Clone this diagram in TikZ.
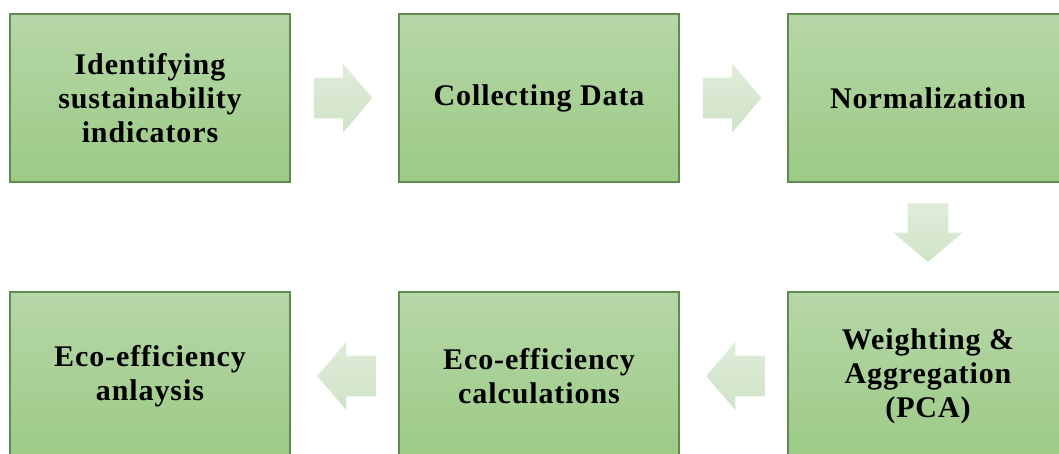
\documentclass[tikz,border=0pt]{standalone}
\usepackage{fontspec}
\setmainfont{Liberation Serif}
\usetikzlibrary{calc,positioning,shapes.arrows}

\definecolor{boxtop}{HTML}{B6D7A8}
\definecolor{boxbot}{HTML}{9CCA85}
\definecolor{boxline}{HTML}{5F8A50}
\definecolor{arrtop}{HTML}{E0ECDA}
\definecolor{arrbot}{HTML}{CFE3C6}

\begin{document}
\begin{tikzpicture}[
  stage/.style={draw=boxline, line width=1.1pt, rectangle, top color=boxtop, bottom color=boxbot,
    minimum width=210pt, minimum height=126pt, inner sep=0pt, outer sep=0pt, align=center,
    font=\bfseries\fontsize{22.5}{25.5}\selectfont\addfontfeature{LetterSpace=3}},
  flow/.style={single arrow, draw=none, top color=arrtop, bottom color=arrbot,
    minimum height=44pt, inner xsep=0pt, inner ysep=15pt,
    single arrow head extend=10.5pt, single arrow tip angle=99},
  flowdown/.style={flow, shape border rotate=270, inner xsep=15pt, inner ysep=0pt}
]
\useasboundingbox (0,0) rectangle (794.25pt,-339.75pt);
\clip (0,0) rectangle (794.25pt,-339.75pt);

% First row, left to right
\node[stage] (ident) at (112.5pt,-73.5pt) {Identifying\\sustainability\\indicators};
\node[stage, right=81.75pt of ident] (collect) {Collecting Data};
\node[stage, right=81.75pt of collect] (norm) {Normalization};

% Second row, right to left
\node[stage, below=82.5pt of norm] (weight) {Weighting \&\\Aggregation\\(PCA)};
\node[stage, left=81.75pt of weight] (ecocalc) {Eco-efficiency\\calculations};
\node[stage, left=81.75pt of ecocalc] (ecoanal) {Eco-efficiency\\anlaysis};

% Block arrows in the gaps
\node[flow, xshift=-7.5pt] (ident2collect) at ($(ident.east)!0.5!(collect.west)$) {};
\node[flow, xshift=-7.5pt] (collect2norm) at ($(collect.east)!0.5!(norm.west)$) {};
\node[flowdown, yshift=9.75pt] (norm2weight) at ($(norm.south)!0.5!(weight.north)$) {};
\node[flow, shape border rotate=180, xshift=8pt] (weight2calc) at ($(weight.west)!0.5!(ecocalc.east)$) {};
\node[flow, shape border rotate=180, xshift=8pt] (calc2anal) at ($(ecocalc.west)!0.5!(ecoanal.east)$) {};

\end{tikzpicture}
\end{document}
